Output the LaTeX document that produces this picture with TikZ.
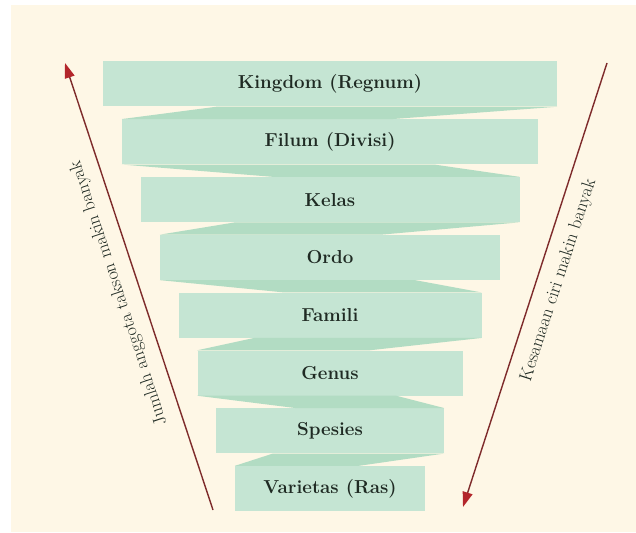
\documentclass[tikz,border=0pt]{standalone}
\usepackage{tikz}
\usetikzlibrary{arrows.meta,positioning,calc}
\definecolor{paper}{HTML}{FEF7E6}
\definecolor{tierfill}{HTML}{C5E5D3}
\definecolor{foldfill}{HTML}{B2DCC3}
\definecolor{arrowline}{HTML}{7E2B2B}
\definecolor{arrowtip}{HTML}{B3262B}
\definecolor{tiertext}{HTML}{1F2A23}

\begin{document}
\begin{tikzpicture}[
    node distance=0.37cm,
    tier/.style={fill=tierfill, text=tiertext, minimum height=1.35cm, inner sep=0pt, font=\fontsize{16}{19}\selectfont\bfseries},
    fold/.style={fill=foldfill},
    trend/.style={draw=arrowline, line width=1.2pt, -{Triangle[length=0.45cm, width=0.3cm, color=arrowtip]}},
    trendlabel/.style={font=\fontsize{15.5}{18}\selectfont, text=tiertext}
  ]
  \useasboundingbox (0,0) rectangle (19.08,15.96);
  \fill[white] (0,0) rectangle (19.08,15.96);
  \fill[paper] (0.33,0) rectangle (19.08,15.81);

  \node[tier, minimum width=13.62cm] (kingdom) at (9.9,13.44) {Kingdom (Regnum)};
  \node[tier, minimum width=12.48cm, below=of kingdom] (filum) {Filum (Divisi)};
  \node[tier, minimum width=11.37cm, below=of filum] (kelas) {Kelas};
  \node[tier, minimum width=10.2cm, below=of kelas] (ordo) {Ordo};
  \node[tier, minimum width=9.09cm, below=of ordo] (famili) {Famili};
  \node[tier, minimum width=7.95cm, below=of famili] (genus) {Genus};
  \node[tier, minimum width=6.84cm, below=of genus] (spesies) {Spesies};
  \node[tier, minimum width=5.7cm, below=of spesies] (varietas) {Varietas (Ras)};

  \fill[fold] (filum.north west) -- ($(filum.north west)!0.65!(filum.north east)$) -- (kingdom.south east) -- ($(kingdom.south west)!0.25!(kingdom.south east)$) -- cycle;
  \fill[fold] (filum.south west) -- ($(filum.south west)!0.75!(filum.south east)$) -- (kelas.north east) -- ($(kelas.north west)!0.35!(kelas.north east)$) -- cycle;
  \fill[fold] (ordo.north west) -- ($(ordo.north west)!0.65!(ordo.north east)$) -- (kelas.south east) -- ($(kelas.south west)!0.25!(kelas.south east)$) -- cycle;
  \fill[fold] (ordo.south west) -- ($(ordo.south west)!0.75!(ordo.south east)$) -- (famili.north east) -- ($(famili.north west)!0.35!(famili.north east)$) -- cycle;
  \fill[fold] (genus.north west) -- ($(genus.north west)!0.65!(genus.north east)$) -- (famili.south east) -- ($(famili.south west)!0.25!(famili.south east)$) -- cycle;
  \fill[fold] (genus.south west) -- ($(genus.south west)!0.75!(genus.south east)$) -- (spesies.north east) -- ($(spesies.north west)!0.35!(spesies.north east)$) -- cycle;
  \fill[fold] (varietas.north west) -- ($(varietas.north west)!0.65!(varietas.north east)$) -- (spesies.south east) -- ($(spesies.south west)!0.25!(spesies.south east)$) -- cycle;

  \coordinate (jumlahtail) at (6.39,0.66);
  \coordinate (jumlahhead) at (1.95,14.07);
  \coordinate (kesamaantail) at (18.21,14.07);
  \coordinate (kesamaanhead) at (13.89,0.75);

  \draw[trend] (jumlahtail) -- (jumlahhead) node[midway, sloped, allow upside down, above=0.25cm, trendlabel] (jumlah) {Jumlah anggota takson makin banyak};
  \draw[trend] (kesamaantail) -- (kesamaanhead) node[pos=0.475, sloped, below=0.25cm, trendlabel] (kesamaan) {Kesamaan ciri makin banyak};
\end{tikzpicture}
\end{document}
